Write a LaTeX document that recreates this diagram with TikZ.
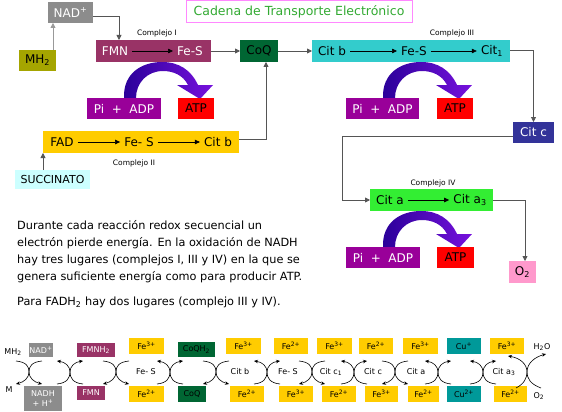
\documentclass[tikz,border=0pt]{standalone}
\usepackage{fontspec}
\setmainfont{DejaVu Sans}
\usetikzlibrary{arrows.meta,calc}
\definecolor{nadgray}{HTML}{8C8C8C}
\definecolor{olive}{HTML}{A5A500}
\definecolor{fmncol}{HTML}{993366}
\definecolor{coqcol}{HTML}{006633}
\definecolor{cyancol}{HTML}{33CCCC}
\definecolor{navycol}{HTML}{333399}
\definecolor{goldcol}{HTML}{FFCC00}
\definecolor{succcol}{HTML}{CCFFFF}
\definecolor{citacol}{HTML}{33EE33}
\definecolor{o2col}{HTML}{FF99CC}
\definecolor{picol}{HTML}{990099}
\definecolor{atpcol}{HTML}{FF0000}
\definecolor{tealcol}{HTML}{009999}
\definecolor{titlecol}{HTML}{33AA33}
\definecolor{titlebord}{HTML}{FF88FF}
\definecolor{arrL}{HTML}{2A0099}
\definecolor{arrR}{HTML}{7711DD}
\definecolor{linecol}{HTML}{555555}
\newcommand\bigf{\fontsize{12}{14}\selectfont}
\newcommand\cplxf{\fontsize{7.5}{9}\selectfont}
\newcommand\chainf{\fontsize{8}{9.5}\selectfont}
\newcommand\parf{\fontsize{11.3}{17}\selectfont}
\newcommand\boxat[6]{\node[minimum width={(#4-#2)*1pt}, minimum height={(#5-#3)*1pt}, inner sep=0pt, outer sep=0pt, #6] (#1) at ({(#2+#4)/2},{(#3+#5)/2})}
\tikzset{
  conn/.style={draw=linecol, line width=0.8pt, -{Triangle[length=5pt,width=5pt]}},
  inarr/.style={draw=black, line width=0.6pt, -{Triangle[length=5pt,width=4.5pt]}, shorten <=1pt, shorten >=1pt},
  txt/.style={inner sep=3pt, font=\bigf},
  xarr/.style={draw=black, line width=0.6pt, -{Stealth[length=4pt,width=3.5pt]}},
  bigarr/.pic={\shade[left color=arrL, right color=arrR]
    (37,0) .. controls (36,-25) and (55,-36) .. (75,-36)
    .. controls (92,-36) and (104,-28) .. (111,-13)
    -- (126,-13) -- (113,1) -- (90,-13) -- (101,-13)
    .. controls (96,-23) and (86,-27) .. (76,-27)
    .. controls (60,-27) and (49,-15) .. (49,0) -- cycle;}
}
\newcommand\xdown[1]{%
  \draw[xarr] (#1-13,361) .. controls (#1-3,362) and (#1,366) .. (#1,372) .. controls (#1,378) and (#1-5,382) .. (#1-13,384);
  \draw[xarr] (#1+13,361) .. controls (#1+3,362) and (#1,366) .. (#1,372) .. controls (#1,378) and (#1+5,382) .. (#1+13,384);}
\newcommand\xup[1]{%
  \draw[xarr] (#1-13,384) .. controls (#1-3,383) and (#1,378) .. (#1,372) .. controls (#1,366) and (#1-5,362) .. (#1-13,361);
  \draw[xarr] (#1+13,384) .. controls (#1+3,383) and (#1,378) .. (#1,372) .. controls (#1,366) and (#1+5,362) .. (#1+13,361);}
\begin{document}
\begin{tikzpicture}[x=1pt,y=-1pt]
\useasboundingbox (0,0) rectangle (562,412);
\fill[white] (0,0) rectangle (562,412);

% ---------- title ----------
\boxat{title}{186}{1}{412}{23}{draw=titlebord, line width=1pt, text=titlecol, font=\fontsize{12.5}{14}\selectfont}{Cadena de Transporte Electrónico};

% ---------- big curved arrows (under boxes) ----------
\pic at (87,98) {bigarr};
\pic at (346,98) {bigarr};
\pic at (346,247) {bigarr};

% ---------- top boxes ----------
\boxat{nad}{48}{2}{93}{23}{fill=nadgray, text=white, font=\bigf}{NAD\textsuperscript{+}};
\boxat{mh}{19}{50}{56}{71}{fill=olive, font=\bigf}{MH\textsubscript{2}};
\boxat{cI}{96}{40}{211}{62}{fill=fmncol}{};
\boxat{coq}{240}{40}{278}{62}{fill=coqcol, font=\bigf}{CoQ};
\boxat{cIII}{312}{40}{510}{62}{fill=cyancol}{};
\boxat{citc}{513}{122}{554}{143}{fill=navycol, text=white, font=\bigf}{Cit c};
\boxat{cII}{43}{131}{239}{153}{fill=goldcol}{};
\boxat{succ}{15}{170}{90}{189}{fill=succcol, font=\fontsize{11}{13}\selectfont}{SUCCINATO};
\boxat{cIV}{370}{189}{493}{211}{fill=citacol}{};
\boxat{otwo}{509}{261}{536}{283}{fill=o2col, font=\bigf}{O\textsubscript{2}};

\boxat{pa1}{87}{98}{161}{119}{fill=picol, text=white, font=\bigf}{Pi\ \ +\ \ ADP};
\boxat{atp1}{178}{98}{214}{119}{fill=atpcol, font=\bigf}{ATP};
\boxat{pa2}{346}{98}{419}{119}{fill=picol, text=white, font=\bigf}{Pi\ \ +\ \ ADP};
\boxat{atp2}{437}{98}{473}{119}{fill=atpcol, font=\bigf}{ATP};
\boxat{pa3}{346}{247}{420}{268}{fill=picol, text=white, font=\bigf}{Pi\ \ +\ \ ADP};
\boxat{atp3}{437}{247}{474}{268}{fill=atpcol, font=\bigf}{ATP};

% complex labels
\node[font=\cplxf] (lI) at (157,33) {Complejo I};
\node[font=\cplxf] (lIII) at (452,33) {Complejo III};
\node[font=\cplxf] (lII) at (134,163) {Complejo II};
\node[font=\cplxf] (lIV) at (433,183) {Complejo IV};

% texts inside complexes
\node[txt, text=white] (fmn) at (115,51) {FMN};
\node[txt, text=white] (fes1) at (190,51) {Fe-S};
\draw[inarr] (fmn) -- (fes1);
\node[txt] (fad) at (62,142) {FAD};
\node[txt] (fes2) at (139,142) {Fe- S};
\node[txt] (citb2) at (218,142) {Cit b};
\draw[inarr] (fad) -- (fes2);
\draw[inarr] (fes2) -- (citb2);
\node[txt] (citb) at (332,51) {Cit b};
\node[txt] (fes3) at (414,51) {Fe-S};
\node[txt] (cit1) at (492,51) {Cit\textsubscript{1}};
\draw[inarr] (citb) -- (fes3);
\draw[inarr] (fes3) -- (cit1);
\node[txt] (cita) at (390,200) {Cit a};
\node[txt] (cita3) at (470,200) {Cit a\textsubscript{3}};
\draw[inarr] (cita) -- (cita3);

% connectors
\draw[conn, draw=gray!80] ([xshift=-3pt]mh.north east) -- ([xshift=-3pt]mh.north east |- nad.south);
\draw[conn] ([yshift=-3.5pt]nad.east) -| ([xshift=23pt]cI.north west);
\draw[conn] (cI.east) -- (coq.west);
\draw[conn] (coq.east) -- (cIII.west);
\draw[conn] ([yshift=1pt]cIII.east) -| (citc.north);
\draw[conn] ([yshift=-3.5pt]citc.west) -| ([xshift=-28pt]cIV.west) -- (cIV.west);
\draw[conn] (cIV.east) -| ([xshift=2.5pt]otwo.north);
\draw[conn] ([yshift=3pt]cII.east) -| ([xshift=7pt]coq.south);
\draw[conn] ([xshift=-9.5pt]succ.north) -- (cII.south west);

% paragraph
\node[anchor=north west, align=left, inner sep=0pt, font=\parf] (para) at (17,220)
 {Durante cada reacción redox secuencial un\\
  electrón pierde energía. En la oxidación de NADH\\
  hay tres lugares (complejos I, III y IV) en la que se\\
  genera suficiente energía como para producir ATP.\\[8pt]
  Para FADH\textsubscript{2} hay dos lugares (complejo III y IV).};

% ---------- bottom chain ----------
\begin{scope}[every node/.append style={font=\chainf}]
\boxat{b1}{29}{343}{53}{357}{fill=nadgray, text=white}{NAD\textsuperscript{+}};
\boxat{b2}{77}{343}{115}{357}{fill=fmncol, text=white}{FMNH\textsubscript{2}};
\boxat{b3}{129}{338}{164}{354}{fill=goldcol}{Fe\textsuperscript{3+}};
\boxat{b4}{178}{342}{215}{357}{fill=coqcol}{CoQH\textsubscript{2}};
\boxat{b5}{226}{338}{261}{354}{fill=goldcol}{Fe\textsuperscript{3+}};
\boxat{b6}{274}{338}{308}{354}{fill=goldcol}{Fe\textsuperscript{2+}};
\boxat{b7}{317}{338}{352}{354}{fill=goldcol}{Fe\textsuperscript{3+}};
\boxat{b8}{359}{338}{393}{354}{fill=goldcol}{Fe\textsuperscript{2+}};
\boxat{b9}{403}{338}{438}{354}{fill=goldcol}{Fe\textsuperscript{3+}};
\boxat{b10}{447}{338}{481}{354}{fill=tealcol}{Cu\textsuperscript{+}};
\boxat{b11}{490}{338}{524}{354}{fill=goldcol}{Fe\textsuperscript{3+}};

\boxat{c1}{24}{386}{62}{411}{fill=nadgray, text=white, align=center}{NADH\\+ H\textsuperscript{+}};
\boxat{c2}{77}{386}{105}{400}{fill=fmncol, text=white}{FMN};
\boxat{c3}{129}{386}{164}{402}{fill=goldcol}{Fe\textsuperscript{2+}};
\boxat{c4}{178}{386}{206}{402}{fill=coqcol}{CoQ};
\boxat{c5}{230}{386}{264}{402}{fill=goldcol}{Fe\textsuperscript{2+}};
\boxat{c6}{279}{386}{313}{402}{fill=goldcol}{Fe\textsuperscript{3+}};
\boxat{c7}{322}{386}{356}{402}{fill=goldcol}{Fe\textsuperscript{2+}};
\boxat{c8}{365}{386}{398}{402}{fill=goldcol}{Fe\textsuperscript{3+}};
\boxat{c9}{408}{386}{439}{402}{fill=goldcol}{Fe\textsuperscript{2+}};
\boxat{c10}{447}{386}{481}{402}{fill=tealcol}{Cu\textsuperscript{2+}};
\boxat{c11}{494}{386}{527}{402}{fill=goldcol}{Fe\textsuperscript{2+}};

\node (mhb) at (13,352) {MH\textsubscript{2}};
\node (mb) at (9,390) {M};
\node (m1) at (146,372) {Fe- S};
\node (m2) at (240,372) {Cit b};
\node (m3) at (288,372) {Fe- S};
\node (m4) at (331,372) {Cit c\textsubscript{1}};
\node (m5) at (373,372) {Cit c};
\node (m6) at (416,372) {Cit a};
\node (m7) at (504,372) {Cit a\textsubscript{3}};
\node (h2o) at (542,347) {H\textsubscript{2}O};
\node (o2b) at (539,396) {O\textsubscript{2}};
\end{scope}

\xdown{29}
\xup{70}
\xdown{116}
\xup{170}
\xdown{216}
\xup{267}
\xdown{312}
\xup{354}
\xdown{395}
\xup{438}
\xup{483}
\draw[xarr] (516,388) .. controls (524,384) and (527,378) .. (527,372) .. controls (527,364) and (520,358) .. (508,356);
\draw[xarr] (541,388) .. controls (530,384) and (527,378) .. (527,372) .. controls (527,363) and (535,357) .. (546,354);
\end{tikzpicture}
\end{document}
